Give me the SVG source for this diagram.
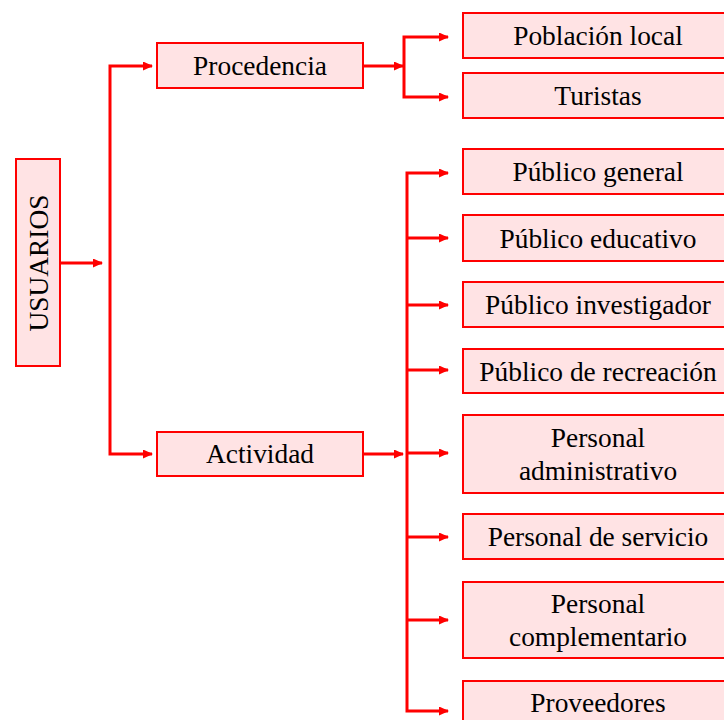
<svg xmlns="http://www.w3.org/2000/svg" width="724" height="720" viewBox="0 0 724 720">
<style>
.box{fill:#FFE3E4;stroke:#FF0000;stroke-width:2}
.t{font-family:"Liberation Serif","Times New Roman",serif;font-size:27.4px;fill:#000;text-anchor:middle}
.c{fill:none;stroke:#FF0000;stroke-width:3;stroke-linejoin:miter}
.v{stroke-width:3.5}
.a{marker-end:url(#ah)}
</style>
<defs>
<marker id="ah" markerUnits="userSpaceOnUse" markerWidth="10" markerHeight="9" refX="9" refY="4.5" orient="auto">
<path d="M0,0 L10,4.5 L0,9 z" fill="#FF0000"/>
</marker>
</defs>
<rect width="724" height="720" fill="#fff"/>
<g id="connectors">
<path class="c a" d="M60,263 H102"/>
<path class="c a" d="M110,263 V66 H152"/>
<path class="c a" d="M110,263 V454 H152"/>
<path class="c a" d="M363,66 H403"/>
<path class="c a" d="M404,66 V37 H448"/>
<path class="c a" d="M404,66 V97 H448"/>
<path class="c a" d="M363,454 H403"/>
<path class="c a" d="M407,454 V173 H448"/>
<path class="c a" d="M407,454 V711 H448"/>
<path class="c a" d="M407,238 H448"/>
<path class="c a" d="M407,305 H448"/>
<path class="c a" d="M407,370 H448"/>
<path class="c a" d="M407,453 H448"/>
<path class="c a" d="M407,537 H448"/>
<path class="c a" d="M407,620 H448"/>
</g>
<g id="usuarios"><rect class="box" x="16" y="159" width="44" height="207"/><text class="t" transform="translate(48,263) rotate(-90)">USUARIOS</text></g>
<g id="procedencia"><rect class="box" x="157" y="43" width="206" height="45"/><text class="t" x="260" y="75">Procedencia</text></g>
<g id="actividad"><rect class="box" x="157" y="432" width="206" height="44"/><text class="t" x="260" y="463">Actividad</text></g>
<g id="poblacion"><rect class="box" x="463" y="13" width="270" height="45"/><text class="t" x="598" y="45">Población local</text></g>
<g id="turistas"><rect class="box" x="463" y="73" width="270" height="45"/><text class="t" x="598" y="105">Turistas</text></g>
<g id="pub-general"><rect class="box" x="463" y="149" width="270" height="45"/><text class="t" x="598" y="181">Público general</text></g>
<g id="pub-educativo"><rect class="box" x="463" y="215" width="270" height="46"/><text class="t" x="598" y="248">Público educativo</text></g>
<g id="pub-investigador"><rect class="box" x="463" y="282" width="270" height="45"/><text class="t" x="598" y="314">Público investigador</text></g>
<g id="pub-recreacion"><rect class="box" x="463" y="349" width="270" height="44"/><text class="t" x="598" y="381">Público de recreación</text></g>
<g id="pers-admin"><rect class="box" x="463" y="415" width="270" height="78"/><text class="t" x="598" y="447">Personal</text><text class="t" x="598" y="480">administrativo</text></g>
<g id="pers-servicio"><rect class="box" x="463" y="514" width="270" height="45"/><text class="t" x="598" y="546">Personal de servicio</text></g>
<g id="pers-compl"><rect class="box" x="463" y="582" width="270" height="76"/><text class="t" x="598" y="613">Personal</text><text class="t" x="598" y="646">complementario</text></g>
<g id="proveedores"><rect class="box" x="463" y="681" width="270" height="46"/><text class="t" x="598" y="712">Proveedores</text></g>
</svg>
